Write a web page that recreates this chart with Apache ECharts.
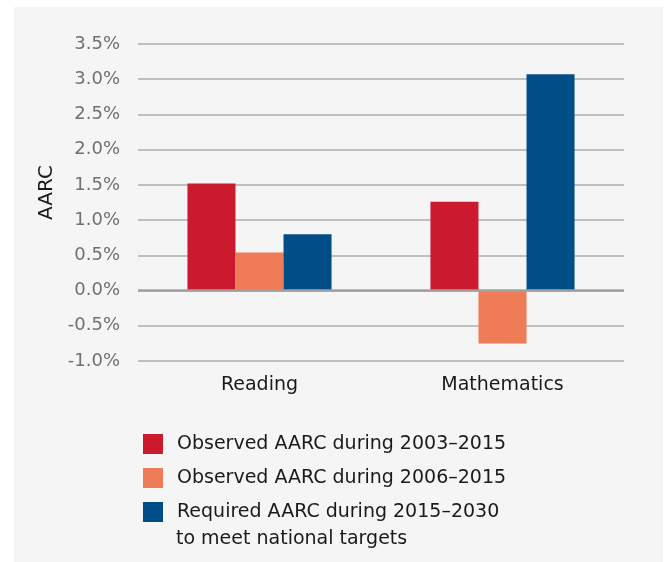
<!DOCTYPE html>
<html>
<head>
<meta charset="utf-8">
<script src="https://cdn.jsdelivr.net/npm/echarts@6/dist/echarts.min.js"></script>
<style>
  html, body { margin: 0; padding: 0; background: #ffffff; }
  #chart { width: 666px; height: 562px; }
</style>
</head>
<body>
<div id="chart"></div>
<script>
    var categories = ['Reading', 'Mathematics'];
    var seriesNames = [
        'Observed AARC during 2003\u20132015',
        'Observed AARC during 2006\u20132015',
        'Required AARC during 2015\u20132030'
    ];
    var observed0315 = [1.52, 1.26];
    var observed0615 = [0.54, -0.75];
    var required1530 = [0.80, 3.07];
    var seriesColors = ['#cb192d', '#ef7c57', '#004e87'];

    var myChart = echarts.init(document.getElementById('chart'));
    var font = '"DejaVu Sans", sans-serif';

    function makeBar(i, values) {
        return {
            name: seriesNames[i],
            type: 'bar',
            data: values,
            barGap: '0%',
            barCategoryGap: '40.7%',
            itemStyle: { color: seriesColors[i] }
        };
    }

    var option = {
        backgroundColor: '#ffffff',
        textStyle: { fontFamily: font },
        graphic: [
            {
                type: 'rect',
                z: -10,
                shape: { x: 14, y: 7, width: 649, height: 560 },
                style: { fill: '#f5f5f5' }
            },
            {
                type: 'text',
                left: 176,
                top: 530,
                style: {
                    text: 'to meet national targets',
                    font: '19px ' + font,
                    fill: '#1a1a1a'
                }
            }
        ],
        grid: {
            left: 138,
            right: 42,
            top: 44,
            bottom: 201,
            containLabel: false,
            outerBoundsMode: 'none'
        },
        legend: {
            orient: 'vertical',
            left: 138,
            top: 429,
            itemWidth: 20,
            itemHeight: 20,
            itemGap: 14,
            icon: 'rect',
            selectedMode: false,
            textStyle: { fontSize: 19, color: '#1a1a1a', padding: [0, 0, 0, 9] },
            data: seriesNames
        },
        xAxis: {
            type: 'category',
            data: categories,
            axisLine: { show: false },
            axisTick: { show: false },
            axisLabel: { fontSize: 19, color: '#1a1a1a', margin: 15 }
        },
        yAxis: {
            type: 'value',
            name: 'AARC',
            nameLocation: 'middle',
            nameGap: 81,
            nameRotate: 90,
            nameTextStyle: { fontSize: 20, color: '#1a1a1a', padding: [0, 0, 0, 20] },
            min: -1,
            max: 3.5,
            interval: 0.5,
            axisLine: { show: false },
            axisTick: { show: false },
            axisLabel: {
                fontSize: 18,
                color: '#707070',
                margin: 18,
                formatter: function (v) { return v.toFixed(1) + '%'; }
            },
            splitLine: { lineStyle: { color: '#adadad', width: 1.5 } }
        },
        series: [
            makeBar(0, observed0315),
            makeBar(1, observed0615),
            Object.assign(makeBar(2, required1530), {
                markLine: {
                    silent: true,
                    symbol: 'none',
                    label: { show: false },
                    lineStyle: { color: '#a0a0a0', type: 'solid', width: 2.5 },
                    data: [{ yAxis: 0 }]
                }
            })
        ]
    };

    myChart.setOption(option);
</script>
</body>
</html>
